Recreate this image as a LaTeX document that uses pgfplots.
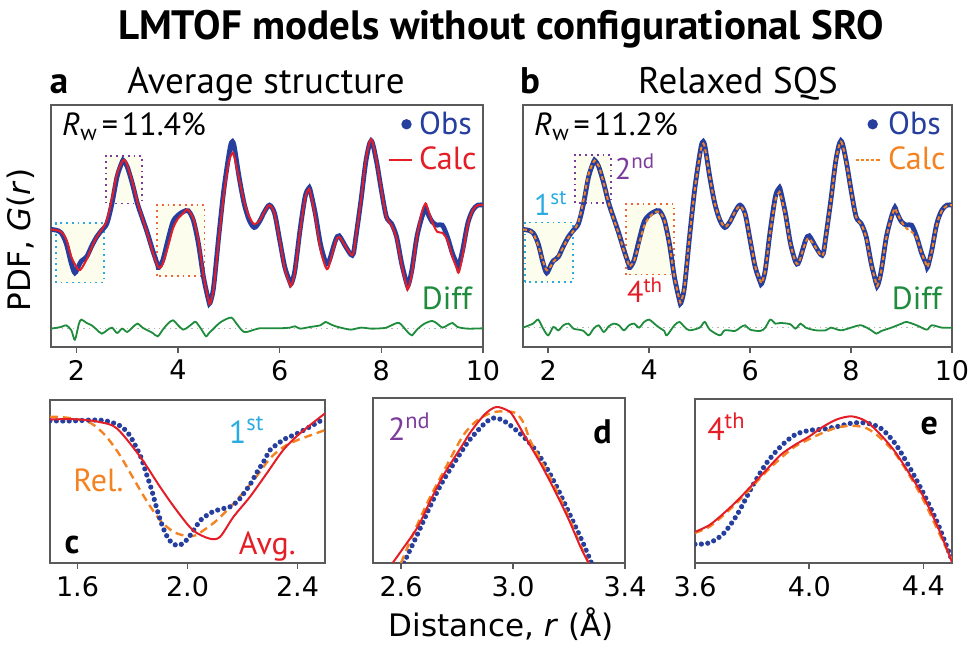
\documentclass[border=0pt]{standalone}
\usepackage{pgfplots}
\pgfplotsset{compat=1.18}
\usepackage{fontspec}
\setmainfont{PT Sans}
\newfontfamily\dejavu{DejaVu Sans}
\definecolor{obsblue}{RGB}{38,62,158}
\definecolor{calcred}{RGB}{228,30,38}
\definecolor{calcorange}{RGB}{245,130,32}
\definecolor{diffgreen}{RGB}{30,140,60}
\definecolor{boxcyan}{RGB}{41,171,226}
\definecolor{boxpurple}{RGB}{125,60,155}
\definecolor{boxorange}{RGB}{240,100,60}
\definecolor{boxfill}{RGB}{253,253,238}
\definecolor{framegray}{RGB}{90,90,90}

\pgfplotstableread{
x y
1.5 3.52
1.6 3.50
1.7 3.42
1.8 3.10
1.9 2.50
1.97 2.22
2.05 2.45
2.1 2.58
2.2 2.70
2.3 3.02
2.4 3.30
2.5 3.50
2.6 3.70
2.7 4.30
2.8 5.10
2.9 5.55
2.93 5.58
3.0 5.40
3.1 4.90
3.2 4.30
3.3 3.85
3.4 3.40
3.5 2.90
3.6 2.45
3.62 2.38
3.7 2.60
3.8 3.20
3.9 3.75
4.0 3.95
4.1 4.05
4.2 4.08
4.3 3.80
4.4 3.10
4.5 2.10
4.6 1.40
4.63 1.32
4.7 1.80
4.8 3.30
4.9 4.70
5.0 5.75
5.05 6.12
5.1 6.05
5.2 5.10
5.3 4.30
5.4 3.80
5.5 3.58
5.6 3.75
5.7 4.05
5.8 4.25
5.9 4.00
6.0 3.20
6.1 2.40
6.2 1.95
6.23 1.90
6.3 2.30
6.4 3.50
6.5 4.50
6.57 4.75
6.6 4.70
6.7 4.00
6.8 3.10
6.9 2.55
6.95 2.50
7.0 2.70
7.1 3.20
7.17 3.33
7.3 3.00
7.4 2.77
7.45 2.80
7.5 3.30
7.6 4.40
7.7 5.60
7.8 6.18
7.9 5.60
8.0 4.70
8.1 3.90
8.2 3.70
8.3 3.30
8.4 2.50
8.5 1.90
8.53 1.85
8.6 2.30
8.7 3.30
8.8 3.90
8.87 4.18
8.9 4.05
9.0 3.75
9.1 3.65
9.2 3.65
9.3 3.30
9.4 2.80
9.5 2.45
9.52 2.40
9.6 2.90
9.7 3.70
9.8 4.10
9.9 4.25
10.0 4.25
}\obs

\pgfplotstableread{
x y
1.5 3.52
1.6 3.50
1.7 3.45
1.8 3.22
1.9 2.70
2.0 2.40
2.05 2.30
2.1 2.35
2.2 2.62
2.3 2.98
2.4 3.30
2.5 3.52
2.6 3.80
2.7 4.45
2.8 5.20
2.9 5.55
2.95 5.60
3.0 5.45
3.1 4.95
3.2 4.35
3.3 3.85
3.4 3.38
3.5 2.85
3.6 2.42
3.65 2.38
3.7 2.50
3.8 3.00
3.9 3.55
4.0 3.85
4.1 4.00
4.17 4.12
4.2 4.10
4.3 3.85
4.4 3.20
4.5 2.15
4.6 1.40
4.63 1.30
4.7 1.75
4.8 3.20
4.9 4.55
5.0 5.55
5.07 5.80
5.1 5.75
5.2 5.05
5.3 4.35
5.4 3.90
5.5 3.68
5.6 3.78
5.7 4.05
5.8 4.25
5.9 3.98
6.0 3.20
6.1 2.35
6.2 1.88
6.23 1.85
6.3 2.25
6.4 3.45
6.5 4.45
6.57 4.72
6.6 4.65
6.7 3.90
6.8 2.95
6.9 2.40
6.95 2.35
7.0 2.60
7.1 3.15
7.17 3.30
7.3 3.00
7.4 2.78
7.45 2.80
7.5 3.30
7.6 4.40
7.7 5.65
7.8 6.22
7.9 5.62
8.0 4.70
8.1 3.90
8.2 3.65
8.3 3.25
8.4 2.45
8.5 1.80
8.53 1.75
8.6 2.20
8.7 3.30
8.8 4.05
8.87 4.30
8.9 4.20
9.0 3.75
9.1 3.45
9.2 3.42
9.3 3.20
9.4 2.70
9.5 2.30
9.53 2.25
9.6 2.75
9.7 3.65
9.8 4.10
9.9 4.25
10.0 4.25
}\calcavg

\pgfplotstableread{
x y
1.5 3.52
1.6 3.50
1.7 3.40
1.8 3.05
1.9 2.55
1.97 2.30
2.05 2.42
2.1 2.55
2.2 2.72
2.3 3.00
2.4 3.28
2.5 3.48
2.6 3.75
2.7 4.40
2.8 5.18
2.9 5.55
2.93 5.57
3.0 5.42
3.1 4.90
3.2 4.30
3.3 3.82
3.4 3.38
3.5 2.88
3.6 2.45
3.62 2.42
3.7 2.58
3.8 3.10
3.9 3.62
4.0 3.88
4.1 4.02
4.2 4.05
4.3 3.80
4.4 3.10
4.5 2.10
4.6 1.42
4.63 1.36
4.7 1.82
4.8 3.30
4.9 4.68
5.0 5.70
5.05 6.05
5.1 6.00
5.2 5.10
5.3 4.30
5.4 3.82
5.5 3.60
5.6 3.75
5.7 4.05
5.8 4.22
5.9 3.98
6.0 3.22
6.1 2.42
6.2 1.98
6.23 1.93
6.3 2.30
6.4 3.45
6.5 4.40
6.57 4.62
6.6 4.58
6.7 3.95
6.8 3.08
6.9 2.55
6.95 2.50
7.0 2.68
7.1 3.15
7.17 3.25
7.3 2.98
7.4 2.75
7.45 2.78
7.5 3.28
7.6 4.38
7.7 5.58
7.8 6.15
7.9 5.58
8.0 4.68
8.1 3.90
8.2 3.68
8.3 3.28
8.4 2.48
8.5 1.90
8.53 1.86
8.6 2.30
8.7 3.28
8.8 3.90
8.87 4.15
8.9 4.05
9.0 3.75
9.1 3.55
9.2 3.45
9.3 3.28
9.4 2.80
9.5 2.45
9.52 2.42
9.6 2.88
9.7 3.68
9.8 4.08
9.9 4.23
10.0 4.25
}\calcrel

\pgfplotstableread{
x y
1.5 0.55
1.7 0.60
1.8 0.65
1.9 0.50
1.97 0.22
2.05 0.70
2.1 0.82
2.2 0.72
2.3 0.65
2.4 0.52
2.5 0.40
2.6 0.50
2.7 0.58
2.8 0.42
2.9 0.55
3.0 0.45
3.1 0.58
3.2 0.70
3.3 0.58
3.4 0.50
3.5 0.42
3.6 0.32
3.7 0.52
3.8 0.70
3.9 0.80
4.0 0.65
4.1 0.52
4.2 0.60
4.3 0.72
4.35 0.75
4.45 0.55
4.55 0.32
4.6 0.40
4.7 0.55
4.8 0.70
4.9 0.80
5.05 0.88
5.15 0.70
5.3 0.45
5.5 0.52
5.6 0.56
5.8 0.56
6.0 0.56
6.2 0.58
6.3 0.62
6.4 0.55
6.6 0.60
6.8 0.65
6.9 0.75
7.0 0.68
7.1 0.62
7.2 0.58
7.4 0.52
7.6 0.58
7.8 0.55
8.0 0.56
8.1 0.58
8.2 0.65
8.35 0.72
8.5 0.48
8.6 0.35
8.7 0.52
8.85 0.70
9.0 0.78
9.1 0.70
9.2 0.58
9.3 0.65
9.4 0.72
9.5 0.60
9.7 0.55
10.0 0.56
}\diffavg

\pgfplotstableread{
x y
1.5 0.58
1.7 0.70
1.8 0.82
1.9 0.55
2.0 0.35
2.1 0.60
2.2 0.50
2.3 0.65
2.4 0.70
2.5 0.55
2.6 0.52
2.7 0.48
2.8 0.35
2.9 0.55
3.0 0.65
3.1 0.45
3.2 0.62
3.3 0.70
3.4 0.65
3.5 0.50
3.6 0.65
3.7 0.70
3.8 0.58
3.9 0.75
4.0 0.82
4.1 0.70
4.2 0.58
4.3 0.48
4.35 0.35
4.5 0.65
4.6 0.75
4.7 0.60
4.8 0.50
5.0 0.58
5.1 0.75
5.2 0.52
5.4 0.35
5.5 0.50
5.7 0.48
5.8 0.58
5.9 0.65
6.0 0.52
6.2 0.48
6.3 0.58
6.4 0.82
6.5 0.70
6.6 0.72
6.8 0.68
6.9 0.55
7.0 0.70
7.1 0.58
7.3 0.50
7.5 0.50
7.6 0.58
7.8 0.50
8.0 0.58
8.2 0.65
8.4 0.50
8.5 0.40
8.6 0.48
8.8 0.58
9.0 0.70
9.1 0.75
9.3 0.65
9.5 0.52
9.6 0.65
9.8 0.58
10.0 0.58
}\diffrel

\pgfplotsset{
  panel/.style={
    scale only axis,
    axis line style={framegray, line width=0.8pt},
    tick align=outside,
    ytick=\empty,
    major tick length=3pt,
    tick style={framegray, line width=0.8pt},
    xtick pos=bottom,
    ticklabel style={font=\dejavu\fontsize{13.5}{13.5}\selectfont},
    /pgf/number format/assume math mode=true,
    clip=true,
  },
  obsline/.style={obsblue, line width=2.4pt, smooth, tension=0.5},
  obsdots/.style={obsblue, line width=2.6pt, line cap=round, dash pattern=on 0pt off 3.2pt, smooth, tension=0.5},
  avgline/.style={calcred, line width=1pt, smooth, tension=0.5},
  relline/.style={calcorange, line width=1pt, dash pattern=on 2pt off 1.4pt, smooth, tension=0.5},
  reldash/.style={calcorange, line width=1.2pt, dash pattern=on 4pt off 2.5pt, smooth, tension=0.5},
  diffline/.style={diffgreen, line width=0.9pt, smooth, tension=0.5},
}

\newcommand{\lf}{\fontsize{16}{16}\selectfont}
\newcommand{\smf}{\fontsize{15}{15}\selectfont}
\newcommand{\bl}{\bfseries\fontsize{17}{17}\selectfont}

\begin{document}
\begin{tikzpicture}
\path[use as bounding box] (0,0) rectangle (485pt,323pt);

% titles
\node[anchor=base, font=\bfseries\fontsize{20.5}{20.5}\selectfont] at (250.5pt,303pt) {LMTOF models without configurational SRO};
\node[anchor=base, font=\bfseries\fontsize{18.5}{18.5}\selectfont] at (29.5pt,276pt) {a};
\node[anchor=base, font=\fontsize{18.5}{18.5}\selectfont] at (133pt,276pt) {Average structure};
\node[anchor=base, font=\bfseries\fontsize{18.5}{18.5}\selectfont] at (265pt,276pt) {b};
\node[anchor=base, font=\fontsize{18.5}{18.5}\selectfont] at (369pt,276pt) {Relaxed SQS};
\node[font=\dejavu\fontsize{15.5}{15.5}\selectfont, rotate=90] at (10.5pt,203pt) {PDF, \textit{G}(\textit{r})};
\node[anchor=base, font=\dejavu\fontsize{15.5}{15.5}\selectfont] at (250.5pt,4.5pt) {Distance, \textit{r} (Å)};

% ---------------- panel a
\begin{axis}[panel, at={(25.5pt,149.5pt)}, anchor=south west, width=216pt, height=121pt,
  xmin=1.5, xmax=10, ymin=0, ymax=7.25, xtick={2,4,6,8,10},
  legend style={draw=none, fill=none, at={(1,1)}, anchor=north east, font=\lf,
    row sep=1pt, inner sep=1pt, column sep=1pt},
  legend cell align=left]
\draw[boxcyan, dotted, line width=0.9pt, fill=boxfill] (axis cs:1.6,1.93) rectangle (axis cs:2.54,3.72);
\draw[boxpurple, dotted, line width=0.9pt, fill=boxfill] (axis cs:2.58,4.30) rectangle (axis cs:3.29,5.73);
\draw[boxorange, dotted, line width=0.9pt, fill=boxfill] (axis cs:3.59,2.13) rectangle (axis cs:4.52,4.25);
\addplot[gray!60, dotted, line width=0.7pt, forget plot] coordinates {(1.5,0.55) (10,0.55)};
\addplot[diffline, forget plot] table {\diffavg};
\addplot[obsline, legend image code/.code={\fill[obsblue] (0.3cm,0cm) circle (1.3pt);}] table {\obs};
\addlegendentry{\textcolor{obsblue}{Obs}}
\addplot[avgline, legend image code/.code={\draw[calcred, line width=1pt] (0cm,0cm) -- (0.4cm,0cm);}] table {\calcavg};
\addlegendentry{\textcolor{calcred}{Calc}}
\node[anchor=west, font=\lf] at (axis cs:1.58,6.6) {\textit{R}\textsubscript{w}\kern2pt=\kern2pt11.4\%};
\node[anchor=east, font=\lf, text=diffgreen] at (axis cs:9.92,1.45) {Diff};
\end{axis}

% ---------------- panel b
\begin{axis}[panel, at={(261.5pt,149.5pt)}, anchor=south west, width=214.5pt, height=121pt,
  xmin=1.5, xmax=10, ymin=0, ymax=7.25, xtick={2,4,6,8,10},
  legend style={draw=none, fill=none, at={(1,1)}, anchor=north east, font=\lf,
    row sep=1pt, inner sep=1pt, column sep=1pt},
  legend cell align=left]
\draw[boxcyan, dotted, line width=0.9pt, fill=boxfill] (axis cs:1.54,1.95) rectangle (axis cs:2.49,3.73);
\draw[boxpurple, dotted, line width=0.9pt, fill=boxfill] (axis cs:2.53,4.32) rectangle (axis cs:3.25,5.75);
\draw[boxorange, dotted, line width=0.9pt, fill=boxfill] (axis cs:3.54,2.17) rectangle (axis cs:4.49,4.28);
\addplot[gray!60, dotted, line width=0.7pt, forget plot] coordinates {(1.5,0.58) (10,0.58)};
\addplot[diffline, forget plot] table {\diffrel};
\addplot[obsline, legend image code/.code={\fill[obsblue] (0.3cm,0cm) circle (1.3pt);}] table {\obs};
\addlegendentry{\textcolor{obsblue}{Obs}}
\addplot[relline, legend image code/.code={\draw[calcorange, line width=1pt, dash pattern=on 1.6pt off 1pt] (0cm,0cm) -- (0.45cm,0cm);}] table {\calcrel};
\addlegendentry{\textcolor{calcorange}{Calc}}
\node[anchor=west, font=\lf] at (axis cs:1.58,6.6) {\textit{R}\textsubscript{w}\kern2pt=\kern2pt11.2\%};
\node[anchor=east, font=\lf, text=diffgreen] at (axis cs:9.94,1.45) {Diff};
\node[font=\smf, text=boxcyan] at (axis cs:2.05,4.3) {1\textsuperscript{st}};
\node[font=\smf, text=boxpurple] at (axis cs:3.72,5.4) {2\textsuperscript{nd}};
\node[font=\smf, text=calcred] at (axis cs:3.92,1.7) {4\textsuperscript{th}};
\end{axis}

% ---------------- panel c
\begin{axis}[panel, at={(25pt,41.5pt)}, anchor=south west, width=137.5pt, height=81.5pt,
  xmin=1.5, xmax=2.5, ymin=0, ymax=4.88, xtick={1.6,2.0,2.4},
  xticklabel style={/pgf/number format/.cd, fixed, fixed zerofill, precision=1}]
\addplot[reldash] coordinates {
(1.50,4.38) (1.55,4.36) (1.60,4.30) (1.65,4.18) (1.70,3.83) (1.75,3.28) (1.80,2.58) (1.85,1.88)
(1.90,1.28) (1.95,0.93) (2.00,0.80) (2.03,0.83) (2.05,0.93) (2.10,1.23) (2.15,1.63) (2.20,2.08)
(2.25,2.58) (2.30,3.13) (2.35,3.48) (2.40,3.68) (2.45,3.83) (2.50,3.98)};
\addplot[obsdots] coordinates {
(1.50,4.26) (1.55,4.25) (1.60,4.26) (1.65,4.28) (1.70,4.26) (1.75,4.13) (1.78,3.93) (1.80,3.68)
(1.83,3.18) (1.85,2.68) (1.87,2.18) (1.89,1.58) (1.91,1.08) (1.93,0.73) (1.95,0.56) (1.97,0.53)
(1.99,0.63) (2.01,0.83) (2.03,1.08) (2.05,1.30) (2.08,1.48) (2.10,1.56) (2.13,1.63) (2.15,1.66)
(2.18,1.83) (2.20,2.03) (2.23,2.38) (2.25,2.68) (2.28,3.08) (2.30,3.38) (2.33,3.58) (2.35,3.70)
(2.40,3.88) (2.45,4.10) (2.50,4.33)};
\addplot[avgline] coordinates {
(1.50,4.30) (1.60,4.30) (1.68,4.22) (1.743,4.03) (1.828,3.18) (1.90,2.28) (1.96,1.58) (2.02,0.98)
(2.08,0.73) (2.118,0.78) (2.167,1.38) (2.227,1.98) (2.288,2.68) (2.348,3.38) (2.409,3.88) (2.5,4.48)};
\node[font=\lf, text=boxcyan] at (axis cs:2.215,3.98) {1\textsuperscript{st}};
\node[font=\lf, text=calcorange] at (axis cs:1.676,2.48) {Rel.};
\node[font=\lf, text=calcred] at (axis cs:2.29,0.48) {Avg.};
\node[font=\bl] at (axis cs:1.58,0.55) {c};
\end{axis}

% ---------------- panel d
\begin{axis}[panel, at={(186.5pt,41.5pt)}, anchor=south west, width=126pt, height=82.5pt,
  xmin=2.5, xmax=3.4, ymin=0, ymax=4.93, xtick={2.6,3.0,3.4},
  xticklabel style={/pgf/number format/.cd, fixed, fixed zerofill, precision=1}]
\addplot[obsdots] coordinates {
(2.61,0.00) (2.66,0.88) (2.706,1.73) (2.75,2.45) (2.82,3.38) (2.85,3.73) (2.90,4.18) (2.93,4.33)
(2.96,4.28) (3.00,4.05) (3.06,3.58) (3.10,3.13) (3.15,2.38) (3.20,1.50) (3.25,0.60) (3.28,0.00)};
\addplot[reldash] coordinates {
(2.60,0.00) (2.63,0.60) (2.66,1.18) (2.70,1.90) (2.75,2.70) (2.82,3.78) (2.87,4.25) (2.92,4.48)
(2.96,4.53) (3.01,4.48) (3.04,4.15) (3.06,3.68) (3.10,3.05) (3.15,2.25) (3.20,1.35) (3.24,0.55) (3.27,0.00)};
\addplot[avgline] coordinates {
(2.57,0.00) (2.60,0.35) (2.66,1.08) (2.706,1.88) (2.75,2.60) (2.82,3.53) (2.85,3.93) (2.90,4.45)
(2.94,4.66) (2.98,4.56) (3.00,4.40) (3.06,3.53) (3.10,2.95) (3.15,2.15) (3.20,1.28) (3.24,0.50) (3.27,0.00)};
\node[font=\lf, text=boxpurple] at (axis cs:2.63,4.08) {2\textsuperscript{nd}};
\node[font=\bl] at (axis cs:3.32,3.93) {d};
\end{axis}

% ---------------- panel e
\begin{axis}[panel, at={(347.5pt,41.5pt)}, anchor=south west, width=128.5pt, height=82pt,
  xmin=3.6, xmax=4.5, ymin=0, ymax=4.90, xtick={3.6,4.0,4.4},
  xticklabel style={/pgf/number format/.cd, fixed, fixed zerofill, precision=1}]
\addplot[obsdots] coordinates {
(3.60,0.56) (3.65,0.60) (3.70,0.88) (3.75,1.48) (3.80,2.28) (3.85,2.98) (3.90,3.48) (3.95,3.83)
(4.00,3.96) (4.05,4.00) (4.10,4.08) (4.15,4.18) (4.20,4.18) (4.25,4.03) (4.30,3.58) (4.35,2.88)
(4.40,2.08) (4.45,1.18) (4.50,0.08)};
\addplot[reldash] coordinates {
(3.60,0.90) (3.65,1.08) (3.70,1.43) (3.75,1.83) (3.80,2.28) (3.85,2.73) (3.90,3.13) (3.95,3.48)
(4.00,3.70) (4.05,3.90) (4.10,4.05) (4.15,4.10) (4.20,4.03) (4.25,3.73) (4.30,3.28) (4.35,2.63)
(4.40,1.88) (4.45,0.98) (4.50,0.08)};
\addplot[avgline] coordinates {
(3.60,0.93) (3.65,1.13) (3.70,1.48) (3.75,1.88) (3.80,2.33) (3.85,2.78) (3.90,3.23) (3.95,3.53)
(4.00,3.78) (4.05,4.08) (4.10,4.30) (4.15,4.38) (4.20,4.23) (4.25,3.83) (4.30,3.33) (4.35,2.68)
(4.40,1.98) (4.45,1.08) (4.50,0.03)};
\node[font=\lf, text=calcred] at (axis cs:3.71,4.08) {4\textsuperscript{th}};
\node[font=\bl] at (axis cs:4.42,4.08) {e};
\end{axis}
\end{tikzpicture}
\end{document}
